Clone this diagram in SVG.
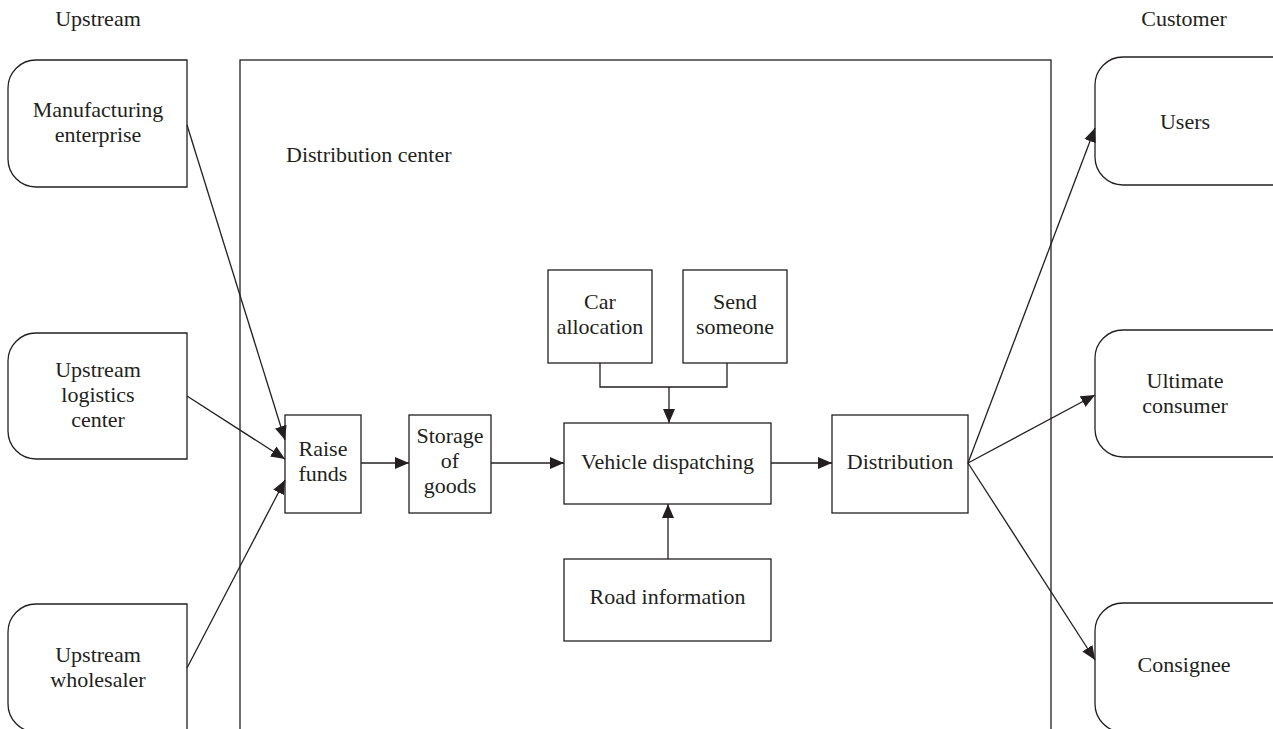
<svg xmlns="http://www.w3.org/2000/svg" width="1273" height="729" viewBox="0 0 1273 729">
<style>
.box{fill:#fff;stroke:#231f20;stroke-width:1.3}
.ln{fill:none;stroke:#231f20;stroke-width:1.3}
.arr{marker-end:url(#ah)}
text{font-family:"Liberation Serif","DejaVu Serif",serif;font-size:22px;fill:#231f20;text-anchor:middle}
.la{text-anchor:start}
</style>
<defs>
<marker id="ah" markerUnits="userSpaceOnUse" markerWidth="15" markerHeight="13" refX="14" refY="6" orient="auto" viewBox="0 0 15 12">
<path d="M0,0 L14,6 L0,12 z" fill="#231f20"/>
</marker>
</defs>
<rect width="1273" height="729" fill="#fff"/>
<text x="98" y="26">Upstream</text>
<text x="1184" y="26">Customer</text>
<g id="distribution-center">
<rect class="box" x="240" y="60" width="811" height="690"/>
<text class="la" x="286" y="162">Distribution center</text>
</g>
<g id="manufacturing">
<path class="box" d="M187,60 L36,60 A28,28 0 0 0 8,88 L8,159 A28,28 0 0 0 36,187 L187,187 Z"/>
<text x="98" y="117">Manufacturing</text>
<text x="98" y="142">enterprise</text>
</g>
<g id="upstream-logistics">
<path class="box" d="M187,333 L36,333 A28,28 0 0 0 8,361 L8,431 A28,28 0 0 0 36,459 L187,459 Z"/>
<text x="98" y="377">Upstream</text>
<text x="98" y="402">logistics</text>
<text x="98" y="427">center</text>
</g>
<g id="upstream-wholesaler">
<path class="box" d="M187,604 L36,604 A28,28 0 0 0 8,632 L8,704 A28,28 0 0 0 36,732 L187,732 Z"/>
<text x="98" y="662">Upstream</text>
<text x="98" y="687">wholesaler</text>
</g>
<g id="users">
<path class="box" d="M1290,57 L1123,57 A28,28 0 0 0 1095,85 L1095,157 A28,28 0 0 0 1123,185 L1290,185 Z"/>
<text x="1185" y="129">Users</text>
</g>
<g id="ultimate-consumer">
<path class="box" d="M1290,330 L1123,330 A28,28 0 0 0 1095,358 L1095,429 A28,28 0 0 0 1123,457 L1290,457 Z"/>
<text x="1185" y="388">Ultimate</text>
<text x="1185" y="413">consumer</text>
</g>
<g id="consignee">
<path class="box" d="M1290,603 L1123,603 A28,28 0 0 0 1095,631 L1095,704 A28,28 0 0 0 1123,732 L1290,732 Z"/>
<text x="1184" y="672">Consignee</text>
</g>
<g id="raise-funds">
<rect class="box" x="285" y="415" width="76" height="98"/>
<text x="323" y="456">Raise</text>
<text x="323" y="481">funds</text>
</g>
<g id="storage">
<rect class="box" x="409" y="415" width="82" height="98"/>
<text x="450" y="443">Storage</text>
<text x="450" y="468">of</text>
<text x="450" y="493">goods</text>
</g>
<g id="vehicle-dispatching">
<rect class="box" x="564" y="423" width="207" height="81"/>
<text x="667.5" y="469">Vehicle dispatching</text>
</g>
<g id="distribution">
<rect class="box" x="832" y="415" width="136" height="98"/>
<text x="900" y="469">Distribution</text>
</g>
<g id="road-information">
<rect class="box" x="564" y="559" width="207" height="82"/>
<text x="667.5" y="604">Road information</text>
</g>
<g id="car-allocation">
<rect class="box" x="548" y="270" width="104" height="93"/>
<text x="600" y="309">Car</text>
<text x="600" y="334">allocation</text>
</g>
<g id="send-someone">
<rect class="box" x="683" y="270" width="104" height="93"/>
<text x="735" y="309">Send</text>
<text x="735" y="334">someone</text>
</g>
<g id="connectors">
<line class="ln arr" x1="187" y1="125" x2="285" y2="440"/>
<line class="ln arr" x1="187" y1="396" x2="285" y2="459"/>
<line class="ln arr" x1="187" y1="668" x2="285" y2="480"/>
<line class="ln arr" x1="361" y1="463" x2="409" y2="463"/>
<line class="ln arr" x1="491" y1="463" x2="564" y2="463"/>
<line class="ln arr" x1="771" y1="463" x2="832" y2="463"/>
<polyline class="ln" points="600,363 600,387 727,387 727,363"/>
<line class="ln arr" x1="669" y1="387" x2="669" y2="423"/>
<line class="ln arr" x1="668" y1="559" x2="668" y2="504"/>
<line class="ln arr" x1="968" y1="463" x2="1095" y2="128"/>
<line class="ln arr" x1="968" y1="463" x2="1095" y2="395"/>
<line class="ln arr" x1="968" y1="463" x2="1095" y2="660"/>
</g>
</svg>
